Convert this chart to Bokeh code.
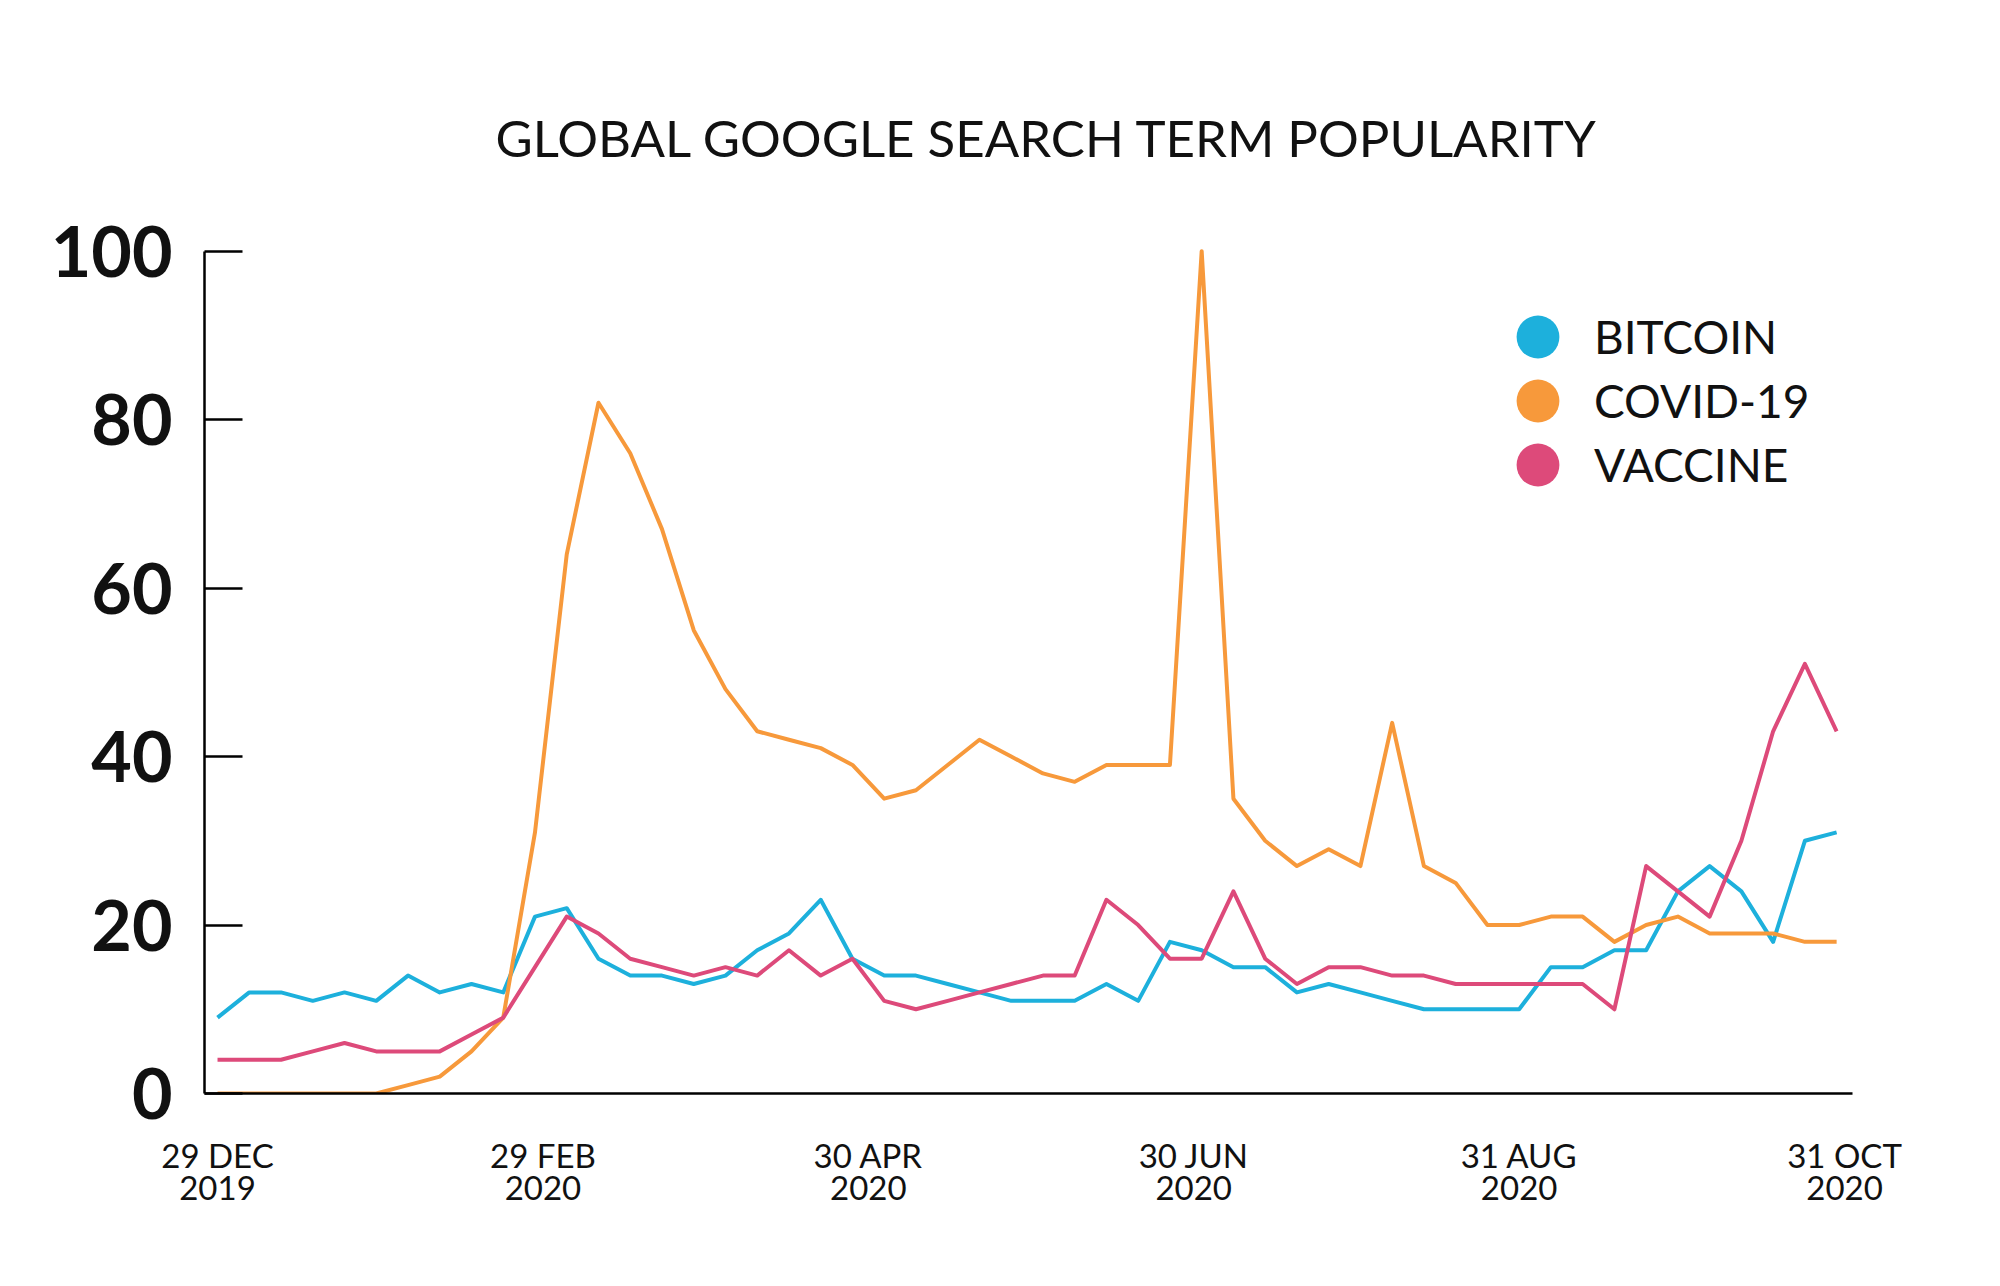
from bokeh.plotting import figure
from bokeh.models import Range1d, FixedTicker, Legend, LegendItem
from bokeh.embed import file_html
from bokeh.resources import INLINE

# ---------------- data ----------------
weeks = list(range(52))
bitcoin = [9, 12, 12, 11, 12, 11, 14, 12, 13, 12,
           21, 22, 16, 14, 14, 13, 14, 17, 19, 23,
           16, 14, 14, 13, 12, 11, 11, 11, 13, 11,
           18, 17, 15, 15, 12, 13, 12, 11, 10, 10,
           10, 10, 15, 15, 17, 17, 24, 27, 24, 18,
           30, 31]
covid = [0, 0, 0, 0, 0, 0, 1, 2, 5, 9,
         31, 64, 82, 76, 67, 55, 48, 43, 42, 41,
         39, 35, 36, 39, 42, 40, 38, 37, 39, 39,
         39, 100, 35, 30, 27, 29, 27, 44, 27, 25,
         20, 20, 21, 21, 18, 20, 21, 19, 19, 19,
         18, 18]
vaccine = [4, 4, 4, 5, 6, 5, 5, 5, 7, 9,
           15, 21, 19, 16, 15, 14, 15, 14, 17, 14,
           16, 11, 10, 11, 12, 13, 14, 14, 23, 20,
           16, 16, 24, 16, 13, 15, 15, 14, 14, 13,
           13, 13, 13, 13, 10, 27, 24, 21, 30, 43,
           51, 43]
series_names = ["BITCOIN", "COVID-19", "VACCINE"]
series_values = [bitcoin, covid, vaccine]
series_colors = ["#1DB0DC", "#F7993B", "#DD4A7A"]
x_tick_positions = [0, 10.25, 20.5, 30.75, 41, 51.25]
x_tick_labels = ["29 DEC\n2019", "29 FEB\n2020", "30 APR\n2020",
                 "30 JUN\n2020", "31 AUG\n2020", "31 OCT\n2020"]
y_ticks = [0, 20, 40, 60, 80, 100]
title_text = "GLOBAL GOOGLE SEARCH TERM POPULARITY"

FONT = "Lato"
INK = "#111111"

p = figure(frame_width=1648, frame_height=855,
           min_border_left=204, min_border_right=140,
           min_border_top=238, min_border_bottom=180,
           x_range=Range1d(-0.41, 51.5), y_range=Range1d(0, 101.5),
           output_backend="svg", toolbar_location=None,
           background_fill_color="white", border_fill_color="white")

p.outline_line_color = None
p.xgrid.visible = False
p.ygrid.visible = False

# title
p.title.text = title_text
p.title.text_font = FONT
p.title.text_font_size = "51px"
p.title.text_font_style = "normal"
p.title.text_color = INK
p.title.align = "left"
p.title.offset = 291
p.title.standoff = 142

# x axis
xa = p.xaxis[0]
xa.ticker = FixedTicker(ticks=x_tick_positions)
xa.major_label_overrides = {pos: lab for pos, lab in zip(x_tick_positions, x_tick_labels)}
xa.axis_line_color = "black"
xa.axis_line_width = 2.5
xa.major_tick_in = 0
xa.major_tick_out = 0
xa.minor_tick_in = 0
xa.minor_tick_out = 0
xa.major_label_text_font = FONT
xa.major_label_text_font_size = "33px"
xa.major_label_text_color = INK
xa.major_label_text_line_height = 0.82
xa.major_label_standoff = 41

# y axis
ya = p.yaxis[0]
ya.ticker = FixedTicker(ticks=y_ticks)
ya.bounds = (0, 100)
ya.axis_line_color = "black"
ya.axis_line_width = 2.5
ya.major_tick_in = 38
ya.major_tick_out = 0
ya.major_tick_line_color = "black"
ya.major_tick_line_width = 2.5
ya.minor_tick_in = 0
ya.minor_tick_out = 0
ya.major_label_text_font = FONT
ya.major_label_text_font_size = "70px"
ya.major_label_text_font_style = "bold"
ya.major_label_text_color = INK
ya.major_label_standoff = 32

# lines
for vals, col in zip(series_values, series_colors):
    p.line(weeks, vals, line_color=col, line_width=4, line_join="round")

# legend: one single-item legend per series (marker renderers have size 0 on the plot)
legend_bottoms = [703, 639, 575]
for name, vals, col, yb in zip(series_names, series_values, series_colors, legend_bottoms):
    dot = p.scatter(x=weeks, y=vals, marker="circle", size=0,
                    fill_color=col, line_color=col, line_width=0)
    lg = Legend(items=[LegendItem(label=name, renderers=[dot])],
                location=(1280, yb), orientation="vertical",
                glyph_width=107, glyph_height=107, label_height=107,
                spacing=0, padding=0, margin=0, label_standoff=3,
                label_text_font=FONT, label_text_font_size="46px",
                label_text_color=INK,
                border_line_alpha=0, background_fill_alpha=0)
    p.add_layout(lg)

open("out.html", "w").write(file_html(p, INLINE))
